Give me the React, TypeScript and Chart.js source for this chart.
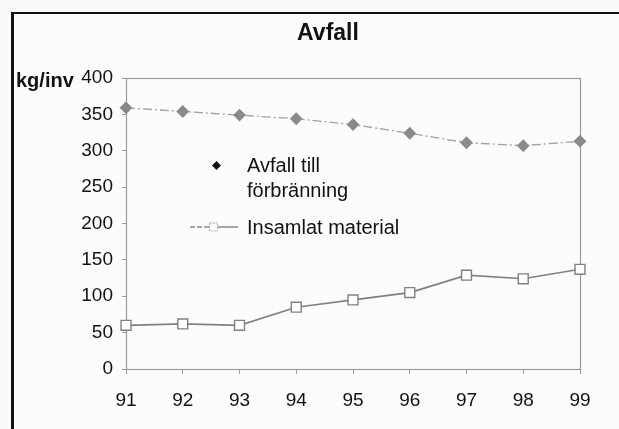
import React, { useEffect, useRef } from "react";
import { Chart, registerables } from "chart.js";

Chart.register(...registerables);

const years = ["91", "92", "93", "94", "95", "96", "97", "98", "99"];
const avfallTillForbranning = [359, 354, 349, 344, 336, 324, 311, 307, 313];
const insamlatMaterial = [60, 62, 60, 85, 95, 105, 129, 124, 137];
const yTicks = [0, 50, 100, 150, 200, 250, 300, 350, 400];
const titleText = "Avfall";
const yUnit = "kg/inv";
const legendLabels = ["Avfall till", "förbränning", "Insamlat material"];

const FONT = "'Liberation Sans', Arial, Helvetica, sans-serif";

export default function App() {
  const ref = useRef<HTMLCanvasElement | null>(null);

  useEffect(() => {
    if (!ref.current) return;
    const decor = {
      id: "decor",
      beforeDatasetsDraw(chart: any) {
        const { ctx, chartArea: a } = chart;
        ctx.save();
        ctx.strokeStyle = "#9a9a9a";
        ctx.lineWidth = 1.2;
        ctx.strokeRect(a.left + 0.5, a.top + 0.5, a.right - a.left, a.bottom - a.top);
        ctx.restore();
      },
      afterDraw(chart: any) {
        const { ctx, chartArea: a } = chart;
        ctx.save();
        ctx.fillStyle = "#111";
        ctx.textAlign = "center";
        ctx.textBaseline = "middle";
        ctx.font = `bold 23px ${FONT}`;
        ctx.fillText(titleText, 328, 34);
        ctx.textAlign = "left";
        ctx.font = `bold 20px ${FONT}`;
        ctx.fillText(yUnit, 16, a.top + 3);

        // legend
        ctx.font = `20px ${FONT}`;
        ctx.fillStyle = "#111";
        const dx = 216.5, dy = 165.5;
        ctx.beginPath();
        ctx.moveTo(dx, dy - 4.5);
        ctx.lineTo(dx + 4.5, dy);
        ctx.lineTo(dx, dy + 4.5);
        ctx.lineTo(dx - 4.5, dy);
        ctx.closePath();
        ctx.fill();
        ctx.fillText(legendLabels[0], 247, dy + 1);
        ctx.fillText(legendLabels[1], 247, dy + 26);
        const ly = 227;
        ctx.strokeStyle = "#8a8a8a";
        ctx.lineWidth = 1.5;
        ctx.setLineDash([5, 2]);
        ctx.beginPath();
        ctx.moveTo(190, ly);
        ctx.lineTo(209, ly);
        ctx.stroke();
        ctx.setLineDash([]);
        ctx.beginPath();
        ctx.moveTo(218, ly);
        ctx.lineTo(238, ly);
        ctx.stroke();
        ctx.fillStyle = "#fff";
        ctx.fillRect(209, ly - 4.5, 9, 9);
        ctx.lineWidth = 1;
        ctx.strokeStyle = "#aaa";
        ctx.setLineDash([2, 1]);
        ctx.strokeRect(209.5, ly - 4, 8, 8);
        ctx.setLineDash([]);
        ctx.fillStyle = "#111";
        ctx.fillText(legendLabels[2], 247, ly + 1);
        ctx.restore();
      },
    };

    const chart = new Chart(ref.current, {
      type: "line",
      data: {
        labels: years,
        datasets: [
          {
            label: legendLabels[0] + " " + legendLabels[1],
            data: avfallTillForbranning,
            borderColor: "#a0a0a0",
            borderWidth: 1.3,
            borderDash: [9, 3, 2, 3],
            pointStyle: "rectRot",
            pointRadius: 5.5,
            pointBackgroundColor: "#8a8a8a",
            pointBorderColor: "#8a8a8a",
            tension: 0,
          },
          {
            label: legendLabels[2],
            data: insamlatMaterial,
            borderColor: "#808080",
            borderWidth: 1.6,
            pointStyle: "rect",
            pointRadius: 7,
            pointBackgroundColor: "#ffffff",
            pointBorderColor: "#808080",
            pointBorderWidth: 1.4,
            tension: 0,
          },
        ],
      },
      options: {
        responsive: false,
        animation: false,
        events: [],
        layout: { padding: { left: 0, right: 39, top: 78, bottom: 0 } },
        plugins: {
          legend: { display: false },
          title: { display: false },
          tooltip: { enabled: false },
        },
        scales: {
          x: {
            type: "category",
            offset: false,
            border: { display: false },
            grid: { drawOnChartArea: false, drawTicks: true, tickLength: 5, color: "#999" },
            ticks: { color: "#111", font: { family: FONT, size: 19 }, padding: 15, maxRotation: 0 },
            afterFit(scale: any) {
              scale.height = 60;
            },
          },
          y: {
            min: 0,
            max: 400,
            border: { display: false },
            afterBuildTicks(scale: any) {
              scale.ticks = yTicks.map((v) => ({ value: v }));
            },
            grid: { drawOnChartArea: false, drawTicks: true, tickLength: 4, color: "#999" },
            ticks: { color: "#111", font: { family: FONT, size: 19 }, padding: 9 },
            afterFit(scale: any) {
              scale.width = 126;
            },
          },
        },
      },
      plugins: [decor],
    });
    return () => chart.destroy();
  }, []);

  return (
    <div style={{ position: "fixed", left: 0, top: 0, width: 619, height: 429, overflow: "hidden", background: "#fafafa" }}>
      <div
        style={{
          position: "absolute",
          left: 11,
          top: 12,
          width: 660,
          height: 470,
          borderTop: "2px solid #111",
          borderLeft: "3px solid #111",
          background: "#fcfcfc",
        }}
      />
      <canvas ref={ref} width={619} height={429} style={{ position: "absolute", left: 0, top: 0 }} />
    </div>
  );
}
